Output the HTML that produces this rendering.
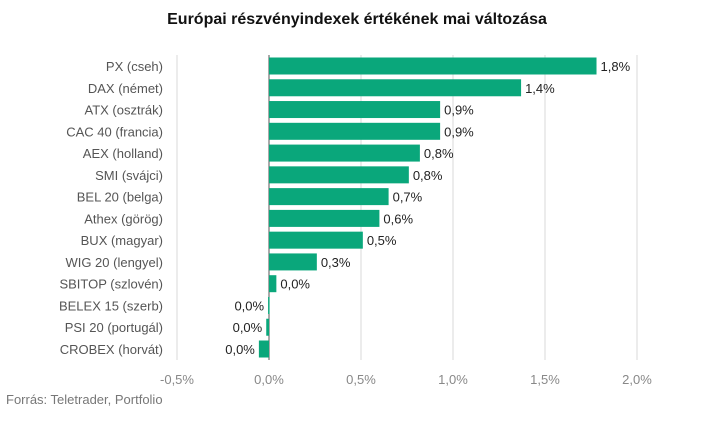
<!DOCTYPE html>
<html><head><meta charset="utf-8"><style>
body{margin:0;background:#fff;font-family:"Liberation Sans",sans-serif}
svg text{font-family:"Liberation Sans",sans-serif}
</style></head><body>
<svg id="c" width="713" height="417">
<text x="357" y="24" text-anchor="middle" font-size="16" font-weight="bold" fill="#111">Európai részvényindexek értékének mai változása</text>
<g id="grid"></g><g id="bars"></g><g id="labels"></g>
<text x="6" y="404" font-size="13" fill="#777">Forrás: Teletrader, Portfolio</text>
</svg>
<script>
const categories=["PX (cseh)","DAX (német)","ATX (osztrák)","CAC 40 (francia)","AEX (holland)","SMI (svájci)","BEL 20 (belga)","Athex (görög)","BUX (magyar)","WIG 20 (lengyel)","SBITOP (szlovén)","BELEX 15 (szerb)","PSI 20 (portugál)","CROBEX (horvát)"];
const values=[1.78,1.37,0.93,0.93,0.82,0.76,0.65,0.60,0.51,0.26,0.04,-0.005,-0.015,-0.055];
const valueLabels=["1,8%","1,4%","0,9%","0,9%","0,8%","0,8%","0,7%","0,6%","0,5%","0,3%","0,0%","0,0%","0,0%","0,0%"];
const ticks=[-0.5,0,0.5,1,1.5,2];
const tickLabels=["-0,5%","0,0%","0,5%","1,0%","1,5%","2,0%"];
const NS="http://www.w3.org/2000/svg";
const x=v=>269+v*184;
const y=i=>66+i*21.77;
function mk(p,t,a){const e=document.createElementNS(NS,t);for(const k in a)e.setAttribute(k,a[k]);document.getElementById(p).appendChild(e);return e;}
ticks.forEach((t,i)=>{
 const l=mk('grid','line',{x1:x(t),x2:x(t),y1:55,y2:360,stroke:t===0?'#555':'#d9d9d9','stroke-width':1});
 
 
 const tx=mk('grid','text',{x:x(t),y:384,'text-anchor':'middle','font-size':13,fill:'#888'});
 tx.textContent=tickLabels[i];
 
 
});
categories.forEach((c,i)=>{
 const v=values[i],x0=Math.min(x(0),x(v)),w=Math.max(Math.abs(x(v)-x(0)),1.5);
 const r=mk('bars','rect',{x:x0,y:y(i)-8.5,width:w,height:17,fill:'#0aa77b'});
 
 
 const cl=mk('labels','text',{x:163,y:y(i)+5,'text-anchor':'end','font-size':13,fill:'#555'});
 cl.textContent=c;
 
 
 const vl=mk('labels','text',{x:v>=0?x(v)+4:x(v)-4,y:y(i)+5,'text-anchor':v>=0?'start':'end','font-size':13,fill:'#222'});
 vl.textContent=valueLabels[i];
 
 
});
</script>
</body></html>
